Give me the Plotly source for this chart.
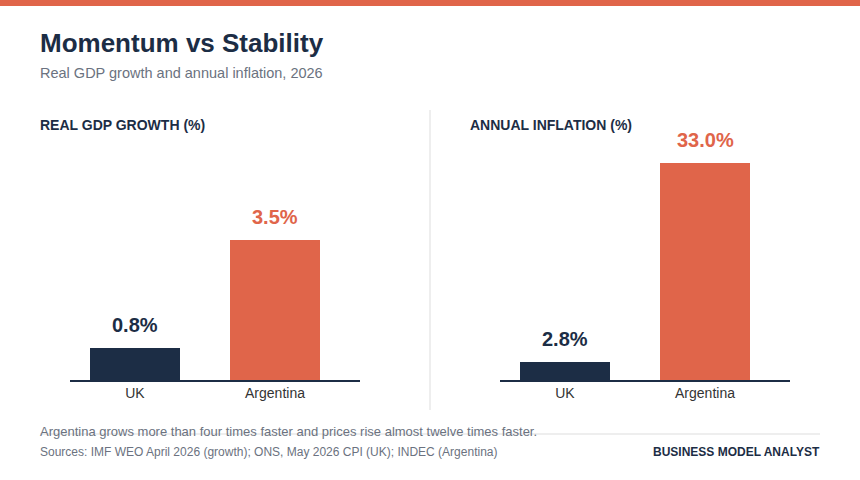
import plotly.graph_objects as go

countries = ["UK", "Argentina"]
gdp_growth = [0.8, 3.5]
inflation = [2.8, 33.0]
panel_titles = ["REAL GDP GROWTH (%)", "ANNUAL INFLATION (%)"]
NAVY = "#1c2d45"
ORANGE = "#e0654a"
colors = [NAVY, ORANGE]
W, H = 860, 480
F = "Liberation Sans, Arial, sans-serif"

fig = go.Figure()
for i, (vals, xa, ya) in enumerate([(gdp_growth, "x", "y"), (inflation, "x2", "y2")]):
    fig.add_trace(go.Bar(x=countries, y=vals, xaxis=xa, yaxis=ya, width=0.643,
                         marker=dict(color=colors, line_width=0), hoverinfo="skip"))
    for c, v, col in zip(countries, vals, colors):
        fig.add_annotation(x=c, y=v, xref=xa, yref=ya, yanchor="bottom", yshift=10,
                           showarrow=False, text=f"<b>{v:.1f}%</b>",
                           font=dict(size=20, color=col, family=F))

def px(x): return x / W
def py(y): return 1 - y / H

xcommon = dict(range=[-0.464, 1.607], showgrid=False, showline=True, linecolor="#1c2d45",
               linewidth=1.5, ticks="", tickfont=dict(size=14, color="#333", family=F),
               fixedrange=True)
ycommon = dict(showgrid=False, showticklabels=False, zeroline=False, showline=False, fixedrange=True)
fig.update_layout(
    width=W, height=H, margin=dict(l=0, r=0, t=0, b=0),
    paper_bgcolor="white", plot_bgcolor="white", showlegend=False, bargap=0,
    xaxis=dict(domain=[px(70), px(360)], anchor="y", **xcommon),
    xaxis2=dict(domain=[px(500), px(790)], anchor="y2", **xcommon),
    yaxis=dict(domain=[py(380), py(130)], range=[0, 6.25], anchor="x", **ycommon),
    yaxis2=dict(domain=[py(380), py(130)], range=[0, 38.0], anchor="x2", **ycommon),
    font=dict(family=F),
)
shapes = [
    dict(type="rect", xref="paper", yref="paper", x0=0, x1=1, y0=py(6), y1=1,
         fillcolor=ORANGE, line_width=0),
    dict(type="line", xref="paper", yref="paper", x0=px(430), x1=px(430), y0=py(410), y1=py(110),
         line=dict(color="#dddddd", width=1)),
    dict(type="line", xref="paper", yref="paper", x0=px(40), x1=px(820), y0=py(434), y1=py(434),
         line=dict(color="#dddddd", width=1)),
]
fig.update_layout(shapes=shapes)
ann = [
    dict(x=px(38), y=py(43), text="<b>Momentum vs Stability</b>", font=dict(size=26, color=NAVY)),
    dict(x=px(38), y=py(73), text="Real GDP growth and annual inflation, 2026", font=dict(size=14.5, color="#6b7280")),
    dict(x=px(38), y=py(125), text=f"<b>{panel_titles[0]}</b>", font=dict(size=14, color=NAVY)),
    dict(x=px(468), y=py(125), text=f"<b>{panel_titles[1]}</b>", font=dict(size=14, color=NAVY)),
    dict(x=px(38), y=py(431), text="Argentina grows more than four times faster and prices rise almost twelve times faster.",
         font=dict(size=13, color="#6b7280")),
    dict(x=px(38), y=py(452), text="Sources: IMF WEO April 2026 (growth); ONS, May 2026 CPI (UK); INDEC (Argentina)",
         font=dict(size=12, color="#6b7280")),
]
for a in ann:
    fig.add_annotation(xref="paper", yref="paper", xanchor="left", yanchor="middle", showarrow=False, **a)
fig.add_annotation(xref="paper", yref="paper", x=px(822), y=py(452), xanchor="right", yanchor="middle",
                   showarrow=False, text="<b>BUSINESS MODEL ANALYST</b>", font=dict(size=12, color=NAVY))
fig.write_html("out.html", config={"displayModeBar": False, "staticPlot": True},
               post_script="document.body.style.margin='0';document.body.style.overflow='hidden';")
